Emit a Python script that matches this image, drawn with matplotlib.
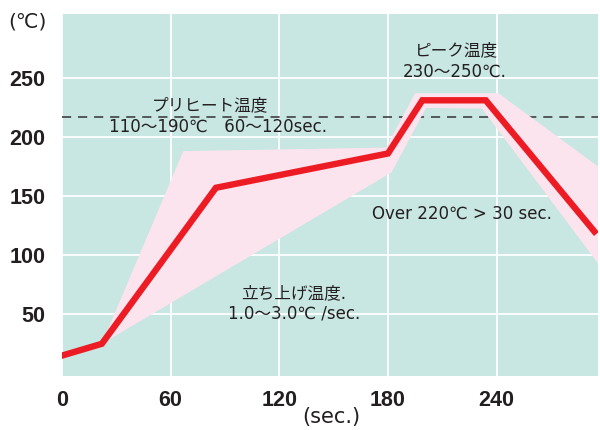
import matplotlib.pyplot as plt
from matplotlib.patches import Polygon

plt.rcParams['font.family'] = ['DejaVu Sans', 'Noto Sans CJK JP']

# reflow profile (sec, degC)
profile_t = [0, 22, 85, 180, 199, 234, 294]
profile_temp = [15, 25, 157, 186, 231, 231, 120]

# tolerance band outline (upper edge then lower edge back)
band_t = [22, 67, 179, 195, 241, 296, 296, 232, 201, 182, 22]
band_temp = [25, 188, 191, 237, 237, 175, 93, 224, 224.5, 170, 25]

preheat_level = 217
xticks = [0, 60, 120, 180, 240]
yticks = [50, 100, 150, 200, 250]

teal = '#c8e6e2'
pink = '#fce4ee'
red = '#ed1c24'
dark = '#231f20'

fig = plt.figure(figsize=(6, 4.3), dpi=100)
ax = fig.add_axes([0.1033, 0.1263, 0.8934, 0.8411])
ax.set_facecolor(teal)
ax.set_xlim(0, 296)
ax.set_ylim(-2, 304)

ax.set_xticks(xticks)
ax.set_yticks(yticks)
ax.grid(True, color='white', linewidth=1.3, zorder=0)
ax.set_axisbelow(True)
for s in ax.spines.values():
    s.set_visible(False)
ax.tick_params(length=0, labelsize=15.5, colors=dark)
ax.tick_params(axis='y', pad=12)
ax.tick_params(axis='x', pad=10)
for lab in ax.get_xticklabels() + ax.get_yticklabels():
    lab.set_fontweight('bold')
    lab.set_family(['Liberation Sans', 'DejaVu Sans'])

ax.axhline(preheat_level, color='#333333', linewidth=1.1,
           dashes=(6, 4.5), zorder=1)

ax.add_patch(Polygon(list(zip(band_t, band_temp)), closed=True,
                     facecolor=pink, edgecolor='none', zorder=2))
ax.plot(profile_t, profile_temp, color=red, linewidth=4.6,
        solid_joinstyle='miter', zorder=3)

txt = dict(color=dark, fontsize=12, ha='center', va='center', zorder=4)
ax.text(82, 227, 'プリヒート温度', **txt)
ax.text(86, 208.5, '110～190℃　60～120sec.', **txt)
ax.text(218, 273, 'ピーク温度', **txt)
ax.text(217, 255, '230～250℃.', **txt)
ax.text(221, 135, 'Over 220℃ > 30 sec.', **txt)
ax.text(128, 68, '立ち上げ温度.', **txt)
ax.text(128, 51, '1.0～3.0℃ /sec.', **txt)

fig.text(27 / 600, 1 - 22 / 430, '(℃)', color=dark, fontsize=14.5,
         ha='center', va='center')
fig.text(331 / 600, 1 - 417 / 430, '(sec.)', color=dark, fontsize=15,
         ha='center', va='center')

fig.savefig('out.png', dpi=100)
